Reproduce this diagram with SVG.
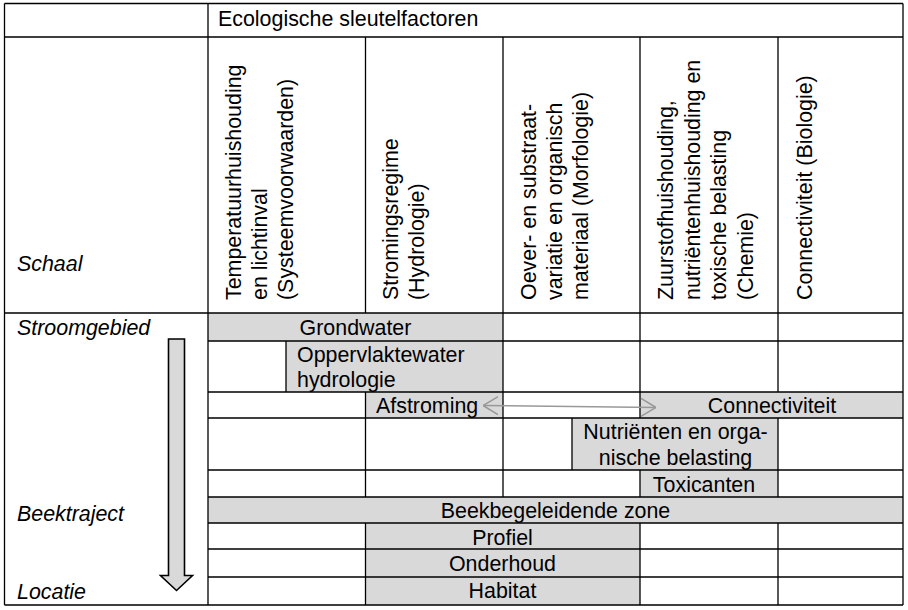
<svg xmlns="http://www.w3.org/2000/svg" width="908" height="610" viewBox="0 0 908 610">
<style>
text{font-family:"Liberation Sans",Arial,sans-serif;font-size:21.4px;fill:#000}
.it{font-style:italic}
.mid{text-anchor:middle}
.fill{fill:#d9d9d9}
.grid{fill:none;stroke:#000;stroke-width:1.3}
.conn{fill:none;stroke:#999;stroke-width:1.5}
</style>
<defs>
<marker id="vhead" viewBox="0 0 15 20" refX="15" refY="10" markerWidth="15" markerHeight="20" markerUnits="userSpaceOnUse" orient="auto-start-reverse">
<path d="M0,1 L15,10 L0,19" fill="none" stroke="#999" stroke-width="1.5"/>
</marker>
</defs>
<rect x="0" y="0" width="908" height="610" fill="#fff"/>

<g id="fills">
<rect id="f-grondwater" class="fill" x="208" y="313" width="295" height="28"/>
<rect id="f-oppervlaktewater" class="fill" x="286" y="341" width="217" height="51"/>
<rect id="f-afstroming" class="fill" x="365.5" y="392" width="137.5" height="26"/>
<rect id="f-connectiviteit" class="fill" x="640" y="392" width="263" height="26"/>
<rect id="f-nutrienten" class="fill" x="572" y="418" width="206" height="52"/>
<rect id="f-toxicanten" class="fill" x="640" y="470" width="138" height="27"/>
<rect id="f-beek" class="fill" x="208" y="497" width="695" height="26"/>
<rect id="f-profiel" class="fill" x="365.5" y="523" width="274.5" height="26"/>
<rect id="f-onderhoud" class="fill" x="365.5" y="549" width="274.5" height="28"/>
<rect id="f-habitat" class="fill" x="365.5" y="577" width="274.5" height="28"/>
</g>

<g id="grid">
<path class="grid" d="M4.5,3.5 H903 M4.5,37 H903 M4.5,313 H903 M208,341 H903 M208,392 H903 M208,418 H903 M208,470 H903 M208,497 H903 M208,523 H903 M208,549 H903 M208,577 H903 M4.5,605 H903
M4.5,3.5 V605 M208,3.5 V605 M903,3.5 V605
M365.5,37 V313 M365.5,392 V497 M365.5,523 V605
M503,37 V497
M640,37 V418 M640,470 V497 M640,523 V605
M778,37 V392 M778,418 V497 M778,523 V605
M286,341 V392 M572,418 V470"/>
</g>

<g id="header">
<text x="218" y="25.5">Ecologische sleutelfactoren</text>
<text class="it" x="17" y="270.5">Schaal</text>
</g>

<g id="col-temperatuur">
<text transform="translate(241,300) rotate(-90)"><tspan x="0" y="0">Temperatuurhuishouding</tspan><tspan x="0" y="26">en lichtinval</tspan><tspan x="0" y="52">(Systeemvoorwaarden)</tspan></text>
</g>
<g id="col-stroming">
<text transform="translate(398,300) rotate(-90)"><tspan x="0" y="0">Stromingsregime</tspan><tspan x="0" y="25.5">(Hydrologie)</tspan></text>
</g>
<g id="col-oever">
<text transform="translate(536,300) rotate(-90)"><tspan x="0" y="0">Oever- en substraat-</tspan><tspan x="0" y="26">variatie en organisch</tspan><tspan x="0" y="52">materiaal (Morfologie)</tspan></text>
</g>
<g id="col-zuurstof">
<text transform="translate(673,300) rotate(-90)"><tspan x="0" y="0">Zuurstofhuishouding,</tspan><tspan x="0" y="26.5">nutriëntenhuishouding en</tspan><tspan x="0" y="53">toxische belasting</tspan><tspan x="0" y="79.5">(Chemie)</tspan></text>
</g>
<g id="col-connectiviteit">
<text transform="translate(812,300) rotate(-90)">Connectiviteit (Biologie)</text>
</g>

<g id="scale-labels">
<text class="it" x="17" y="335">Stroomgebied</text>
<text class="it" x="17" y="520.5">Beektraject</text>
<text class="it" x="17" y="598.5">Locatie</text>
</g>

<g id="grondwater"><text class="mid" x="355.5" y="335">Grondwater</text></g>
<g id="oppervlaktewater"><text x="297" y="361.5"><tspan x="297">Oppervlaktewater</tspan><tspan x="297" y="387">hydrologie</tspan></text></g>
<g id="afstroming"><text x="376" y="412.5">Afstroming</text></g>
<g id="connectiviteit"><text class="mid" x="772" y="412.5">Connectiviteit</text></g>
<g id="nutrienten"><text class="mid" x="675.5" y="439"><tspan x="675.5">Nutriënten en orga-</tspan><tspan x="675.5" y="465">nische belasting</tspan></text></g>
<g id="toxicanten"><text class="mid" x="704" y="491.5">Toxicanten</text></g>
<g id="beekbegeleidende-zone"><text class="mid" x="555.5" y="517.5">Beekbegeleidende zone</text></g>
<g id="profiel"><text class="mid" x="502.5" y="545">Profiel</text></g>
<g id="onderhoud"><text class="mid" x="502.5" y="570.5">Onderhoud</text></g>
<g id="habitat"><text class="mid" x="502.5" y="597.5">Habitat</text></g>

<g id="connectors">
<path class="conn" d="M483,405.5 L656,407.5" marker-start="url(#vhead)" marker-end="url(#vhead)"/>
<polygon points="168.5,339 184.5,339 184.5,575.5 192.5,575.5 176.5,590.5 160.5,575.5 168.5,575.5" fill="#d9d9d9" stroke="#000" stroke-width="1.6" stroke-linejoin="miter"/>
</g>
</svg>
